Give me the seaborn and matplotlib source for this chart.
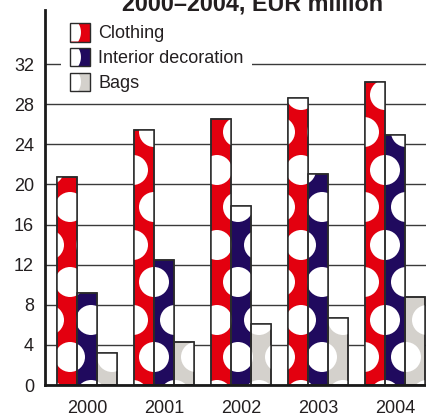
import matplotlib
matplotlib.use('Agg')
import matplotlib.pyplot as plt
import numpy as np
import pandas as pd
import seaborn as sns
from matplotlib.legend_handler import HandlerBase
from matplotlib.patches import Ellipse, Patch, Polygon, Rectangle

# chart data
years = ['2000', '2001', '2002', '2003', '2004']
clothing = [20.7, 25.4, 26.5, 28.6, 30.2]
interior = [9.2, 12.5, 17.9, 21.0, 24.9]
bags = [3.2, 4.3, 6.1, 6.7, 8.8]
series_names = ['Clothing', 'Interior decoration', 'Bags']
series_colors = ['#e3000f', '#200a5e', '#d4d1cc']
y_ticks = [0, 4, 8, 12, 16, 20, 24, 28, 32]
title_text = '2000\u20132004, EUR million'

EDGE = '#2b2b2b'
TEXT = '#231f20'


class HalfDotHandler(HandlerBase):
    '''Legend box: coloured square with a white disc bitten out of its left side.'''
    def create_artists(self, legend, orig_handle, xdescent, ydescent,
                       width, height, fontsize, trans):
        x0, y0 = -xdescent, -ydescent
        face = Rectangle((x0, y0), width, height, facecolor=orig_handle.get_facecolor(),
                         edgecolor='none', transform=trans)
        # white disc centred left of the box
        cx, cy, r = x0 - 0.3 * width, y0 + height / 2, 0.85 * width
        a = np.arcsin(min(1.0, (height / 2) / r))
        t = np.linspace(-a, a, 40)
        pts = [(x0, y0)] + list(zip(cx + r * np.cos(t), cy + r * np.sin(t))) + [(x0, y0 + height)]
        white = Polygon(pts, closed=True, facecolor='white', edgecolor='none', transform=trans)
        border = Rectangle((x0, y0), width, height, fill=False, edgecolor=EDGE,
                           linewidth=1.0, transform=trans)
        return [face, white, border]


def add_dots(ax, bar, px_x, px_y, col_origin, col_px=21, period_px=75,
             row_a_px=28, row_b_px=65, diam_px=30):
    '''Clip a staggered lattice of white dots into one bar.'''
    x0, y0 = bar.get_x(), bar.get_y()
    w, h = bar.get_width(), bar.get_height()
    dx = col_px / px_x
    k0 = int(np.floor((x0 - col_origin) / dx)) - 1
    k1 = int(np.ceil((x0 + w - col_origin) / dx)) + 1
    for k in range(k0, k1 + 1):
        cx = col_origin + k * dx
        start = row_a_px if k % 2 == 0 else row_b_px
        for cy_px in np.arange(start - period_px, h * px_y + period_px, period_px):
            dot = Ellipse((cx, cy_px / px_y), diam_px / px_x, diam_px / px_y,
                          facecolor='white', edgecolor='none', zorder=bar.get_zorder() + 0.1)
            ax.add_patch(dot)
            dot.set_clip_path(bar)
    # redraw the outline on top of the dots
    ax.add_patch(Rectangle((x0, y0), w, h, fill=False, edgecolor=EDGE, linewidth=1.1,
                           zorder=bar.get_zorder() + 0.2))


df = pd.DataFrame({
    'year': years * 3,
    'value': clothing + interior + bags,
    'series': [s for s in series_names for _ in years],
})

sns.set_style('white')
plt.rcParams['font.family'] = ['Liberation Sans', 'DejaVu Sans']

fig = plt.figure(figsize=(4.27, 4.16), dpi=100)
ax = fig.add_axes([45 / 427, 31 / 416, 382 / 427, 375 / 416])

sns.barplot(data=df, x='year', y='value', hue='series', hue_order=series_names,
            palette=series_colors, saturation=1, width=0.78, edgecolor=EDGE,
            linewidth=1.1, legend=False, ax=ax)

ax.set_xlim(-0.545, 4.416)
ax.set_ylim(0, 37.4)
ax.set_yticks(y_ticks)
ax.set_xlabel('')
ax.set_ylabel('')

# grid and spines
ax.set_axisbelow(True)
ax.yaxis.grid(True, color='#3a3a3a', linewidth=1.0)
ax.xaxis.grid(False)
for side in ['top', 'right']:
    ax.spines[side].set_visible(False)
for side in ['left', 'bottom']:
    ax.spines[side].set_linewidth(2.0)
    ax.spines[side].set_color('#1a1a1a')
    ax.spines[side].set_zorder(5)
ax.tick_params(axis='both', length=0, labelsize=13, labelcolor=TEXT)
ax.tick_params(axis='y', pad=8)
ax.tick_params(axis='x', pad=11)

# polka dots inside each bar
px_x = ax.bbox.width / (ax.get_xlim()[1] - ax.get_xlim()[0])
px_y = ax.bbox.height / (ax.get_ylim()[1] - ax.get_ylim()[0])
col_origin = (70 - 45) / px_x - 0.545
for bar in list(ax.patches):
    add_dots(ax, bar, px_x, px_y, col_origin)

# legend with the half-dot boxes
handles = [Patch(facecolor=c, edgecolor=EDGE) for c in series_colors]
leg = ax.legend(handles, series_names, handler_map={Patch: HalfDotHandler()},
                loc='upper left', bbox_to_anchor=(61 / 427, 1 - 14 / 416),
                bbox_transform=fig.transFigure, fontsize=13, frameon=True,
                fancybox=False, framealpha=1, facecolor='white', edgecolor='none',
                handlelength=1.1, handleheight=1.2, handletextpad=0.45,
                labelspacing=0.3, borderpad=0.5, borderaxespad=0)
for txt in leg.get_texts():
    txt.set_color(TEXT)
leg.set_zorder(6)

# title, cut off at the top edge like the reference
fig.text(0.591, 1 - 11 / 416, title_text, ha='center', va='baseline',
         fontsize=16.8, fontweight='bold', color=TEXT)

fig.savefig('out.png', dpi=100)
